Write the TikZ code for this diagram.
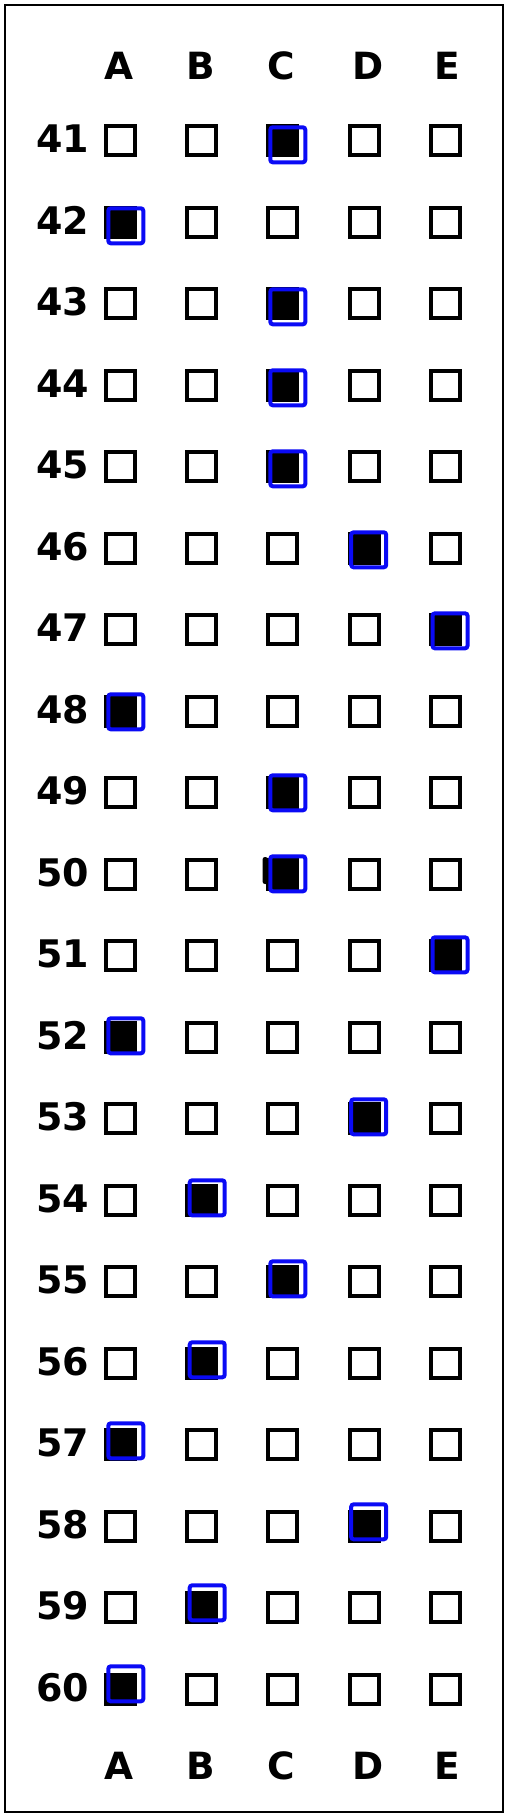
\documentclass[tikz,border=0pt]{standalone}
\usepackage{fontspec}
\setmainfont{DejaVu Sans}
\definecolor{markblue}{RGB}{10,10,245}
\begin{document}
\begin{tikzpicture}[x=1pt,y=-1pt,
  optbox/.style={draw=black,line width=4pt,minimum size=29pt,inner sep=0pt,outer sep=0pt},
  filledbox/.style={optbox,fill=black},
  bluering/.style={draw=markblue,line width=4pt,minimum size=35pt,inner sep=0pt,rounded corners=2.5pt},
  numlabel/.style={anchor=base,inner sep=0pt,font=\fontsize{38}{40}\selectfont\bfseries},
  collabel/.style={anchor=base,inner sep=0pt,font=\fontsize{37.5}{40}\selectfont\bfseries}]
\useasboundingbox (0,0) rectangle (509,1818);
\fill[white] (0,0) rectangle (509,1818);
\draw[line width=1.6pt] (5,5) rectangle (503,1812);
% column headers (top and bottom)
\foreach \c/\lx in {A/119.5,B/201,C/281.7,D/368.5,E/447}{
  \node[collabel] (top\c) at (\lx,79) {\c};
  \node[collabel] (bot\c) at (\lx,1779) {\c};
}
% rows
\foreach \r/\a [count=\i from 0] in {41/3,42/1,43/3,44/3,45/3,46/4,47/5,48/1,49/3,50/3,51/5,52/1,53/4,54/2,55/3,56/2,57/1,58/4,59/2,60/1}{
  \pgfmathsetmacro\yy{140.5+\i*81.5}
  \pgfmathsetmacro\by{144.8+\i*81.0}
  \node[numlabel] (num\r) at (62.5,{\yy+12}) {\r};
  \foreach \c/\xx/\bx [count=\k from 1] in {A/120.3/125.8,B/201/207.2,C/282.5/287.8,D/364/368.7,E/445.2/450}{
    \ifnum\k=\a
      \node[filledbox] (box\r\c) at (\xx,\yy) {};
      \node[bluering] (ring\r) at (\bx,\by) {};
    \else
      \node[optbox] (box\r\c) at (\xx,\yy) {};
    \fi
  }
}
% smudge beside 50C
\fill[black,rounded corners=2.5pt] (262.5,857) rectangle (268,884);
\end{tikzpicture}
\end{document}
